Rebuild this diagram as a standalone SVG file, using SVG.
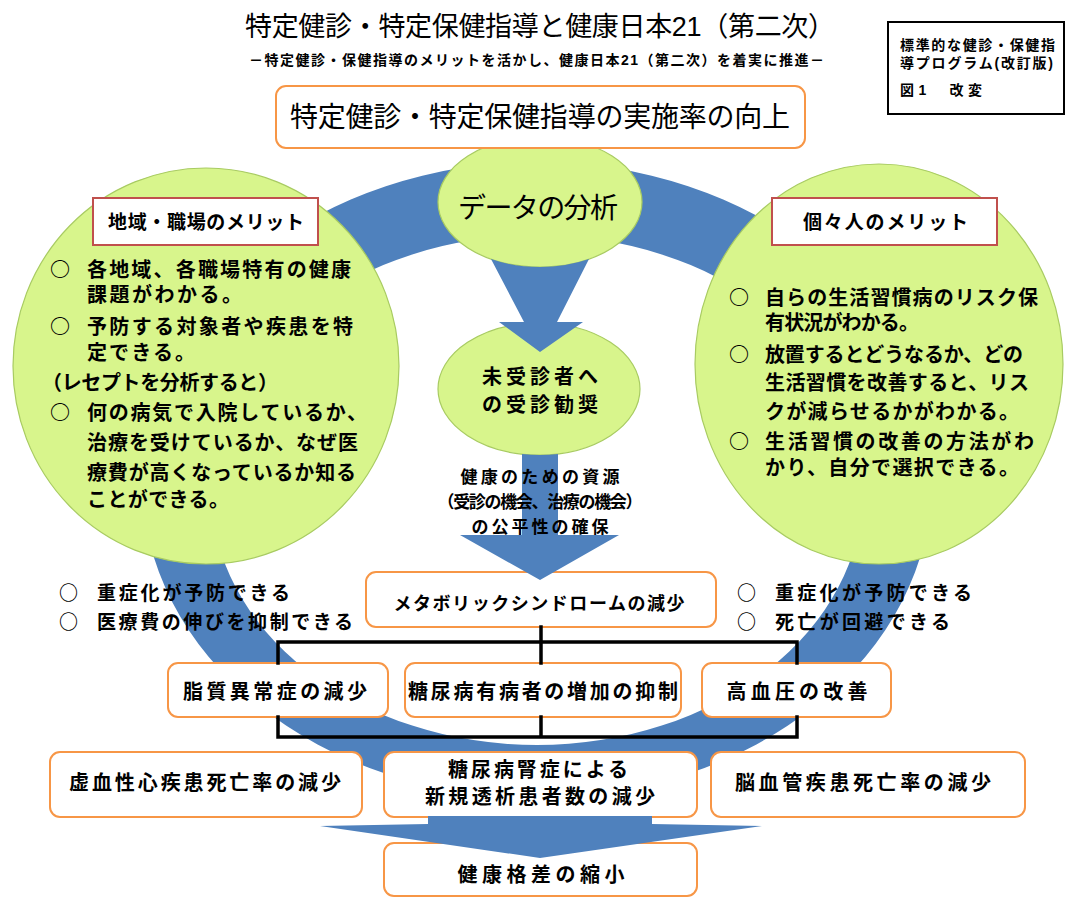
<svg xmlns="http://www.w3.org/2000/svg" width="1067" height="899" viewBox="0 0 1067 899">
<style>
text{font-family:"Liberation Sans","Noto Sans CJK JP",sans-serif;fill:#000}
.bul{font-family:"Noto Sans CJK JP",sans-serif}
.b{font-weight:bold}
.n{font-weight:normal}
.box{fill:#fff;stroke:#F79646;stroke-width:2}
.hdr{fill:#fff;stroke:#C0504D;stroke-width:2}
.grn{fill:#D8F58C;stroke:#A8CB62;stroke-width:1.2}
.blue{fill:#4F81BD}
.br{fill:none;stroke:#000;stroke-width:3.5;stroke-linecap:square}
.p{font-size:20px;font-weight:bold}
.bx{font-size:20px;font-weight:bold;text-anchor:middle}
.m{text-anchor:middle}
</style>
<rect width="1067" height="899" fill="#fff"/>

<g id="ring">
<path class="blue" fill-rule="evenodd" d="M142,480 A395,318 0 1 0 932,480 A395,318 0 1 0 142,480 Z M211,490 A326,255 0 1 0 863,490 A326,255 0 1 0 211,490 Z"/>
</g>

<g id="title">
<text x="245" y="36" class="n" font-size="27" textLength="590">特定健診・特定保健指導と健康日本21（第二次）</text>
<text x="249" y="65" class="b" font-size="14" textLength="575">－特定健診・保健指導のメリットを活かし、健康日本21（第二次）を着実に推進－</text>
</g>

<g id="source">
<rect x="888" y="22" width="176" height="92" fill="#fff" stroke="#000" stroke-width="2"/>
<text class="b" font-size="14"><tspan x="900" y="50" textLength="155">標準的な健診・保健指</tspan><tspan x="900" y="68" textLength="153">導プログラム(改訂版)</tspan><tspan x="900" y="95" textLength="82">図1　改変</tspan></text>
</g>

<g id="left-merit">
<ellipse class="grn" cx="206" cy="366" rx="193" ry="198"/>
<rect class="hdr" x="93" y="198" width="225" height="47"/>
<text x="108" y="229" class="b" font-size="19" textLength="196">地域・職場のメリット</text>
<text class="p"><tspan class="bul" x="50" y="277">○</tspan><tspan x="87" y="277" textLength="264">各地域、各職場特有の健康</tspan><tspan x="87" y="302" textLength="155">課題がわかる。</tspan></text>
<text class="p"><tspan class="bul" x="50" y="334">○</tspan><tspan x="87" y="334" textLength="266">予防する対象者や疾患を特</tspan><tspan x="87" y="360" textLength="108">定できる。</tspan></text>
<text x="42" y="390" class="p" textLength="236">（レセプトを分析すると）</text>
<text class="p"><tspan class="bul" x="50" y="420">○</tspan><tspan x="87" y="420" textLength="280">何の病気で入院しているか、</tspan><tspan x="87" y="450" textLength="271">治療を受けているか、なぜ医</tspan><tspan x="87" y="480" textLength="269">療費が高くなっているか知る</tspan><tspan x="87" y="507" textLength="142">ことができる。</tspan></text>
</g>

<g id="right-merit">
<ellipse class="grn" cx="879" cy="364" rx="184" ry="200"/>
<rect class="hdr" x="772" y="198" width="225" height="47"/>
<text x="803" y="229" class="b" font-size="19" textLength="165">個々人のメリット</text>
<text class="p"><tspan class="bul" x="729" y="305">○</tspan><tspan x="765" y="305" textLength="273">自らの生活習慣病のリスク保</tspan><tspan x="765" y="330" textLength="154">有状況がわかる。</tspan></text>
<text class="p"><tspan class="bul" x="729" y="362">○</tspan><tspan x="765" y="362" textLength="258">放置するとどうなるか、どの</tspan><tspan x="765" y="390" textLength="264">生活習慣を改善すると、リス</tspan><tspan x="765" y="419" textLength="254">クが減らせるかがわかる。</tspan></text>
<text class="p"><tspan class="bul" x="729" y="449">○</tspan><tspan x="765" y="449" textLength="269">生活習慣の改善の方法がわ</tspan><tspan x="765" y="475" textLength="254">かり、自分で選択できる。</tspan></text>
</g>

<g id="data-analysis">
<ellipse class="grn" cx="540" cy="202" rx="102" ry="65"/>
<text x="458" y="218" class="n" font-size="28" textLength="160">データの分析</text>
</g>

<g id="rate-up">
<rect class="box" x="276" y="86" width="529" height="62" rx="10"/>
<text x="290" y="127" class="n" font-size="28" textLength="500">特定健診・特定保健指導の実施率の向上</text>
</g>

<g id="recommend">
<ellipse class="grn" cx="539" cy="389" rx="101" ry="66"/>
<text class="p"><tspan x="482" y="384" textLength="116">未受診者へ</tspan><tspan x="482" y="412" textLength="116">の受診勧奨</tspan></text>
</g>

<g id="effects-left">
<text class="b" font-size="19"><tspan class="bul" x="59" y="600">○</tspan><tspan x="97" y="600" textLength="193">重症化が予防できる</tspan><tspan class="bul" x="59" y="629">○</tspan><tspan x="97" y="629" textLength="256">医療費の伸びを抑制できる</tspan></text>
</g>

<g id="effects-right">
<text class="b" font-size="19"><tspan class="bul" x="737" y="600">○</tspan><tspan x="775" y="600" textLength="197">重症化が予防できる</tspan><tspan class="bul" x="737" y="629">○</tspan><tspan x="775" y="629" textLength="175">死亡が回避できる</tspan></text>
</g>

<g id="metabo">
<rect class="box" x="366" y="572" width="350" height="55" rx="10"/>
<text x="539" y="610" class="b m" font-size="18" textLength="291">メタボリックシンドロームの減少</text>
</g>

<g id="lipid">
<rect class="box" x="168" y="663" width="220" height="54" rx="10"/>
<text x="275" y="699" class="bx" textLength="184">脂質異常症の減少</text>
</g>
<g id="diabetes">
<rect class="box" x="405" y="663" width="276" height="54" rx="10"/>
<text x="543" y="699" class="bx" textLength="270">糖尿病有病者の増加の抑制</text>
</g>
<g id="hypertension">
<rect class="box" x="702" y="663" width="189" height="54" rx="10"/>
<text x="797" y="699" class="bx" textLength="141">高血圧の改善</text>
</g>

<g id="ihd">
<rect class="box" x="50" y="752" width="312" height="65" rx="10"/>
<text x="205" y="790" class="bx" textLength="272">虚血性心疾患死亡率の減少</text>
</g>
<g id="nephropathy">
<rect class="box" x="384" y="752" width="313" height="65" rx="10"/>
<text class="bx"><tspan x="538" y="777" textLength="180">糖尿病腎症による</tspan><tspan x="540" y="804" textLength="230">新規透析患者数の減少</tspan></text>
</g>
<g id="stroke">
<rect class="box" x="711" y="752" width="314" height="65" rx="10"/>
<text x="863" y="790" class="bx" textLength="256">脳血管疾患死亡率の減少</text>
</g>

<g id="disparity">
<rect class="box" x="384" y="843" width="313" height="53" rx="10"/>
<text x="541" y="882" class="bx" textLength="167">健康格差の縮小</text>
</g>

<g id="connectors">
<path class="blue" d="M491,259 A102,65 0 0 0 589,259 L557,322 L583,322 L540,352 L499,322 L524,322 Z"/>
<path class="blue" d="M522,454 A101,66 0 0 0 558,454 L558,535 L619,535 L540,580 L460,535 L522,535 Z"/>
<path class="blue" d="M428,816 L652,816 L652,824 L762,826 L540,858 L320,826 L428,824 Z"/>
<path class="br" d="M541,627 V663 M541,717 V737 M278,642 H797 M278,642 V663 M278,717 V737 M797,642 V663 M797,717 V737 M278,737 H797"/>
</g>

<g id="resources-label">
<text class="b m" font-size="17"><tspan x="540" y="483" textLength="159">健康のための資源</tspan><tspan x="540" y="508" textLength="205">（受診の機会、治療の機会）</tspan><tspan x="540" y="533" textLength="137">の公平性の確保</tspan></text>
</g>
</svg>
